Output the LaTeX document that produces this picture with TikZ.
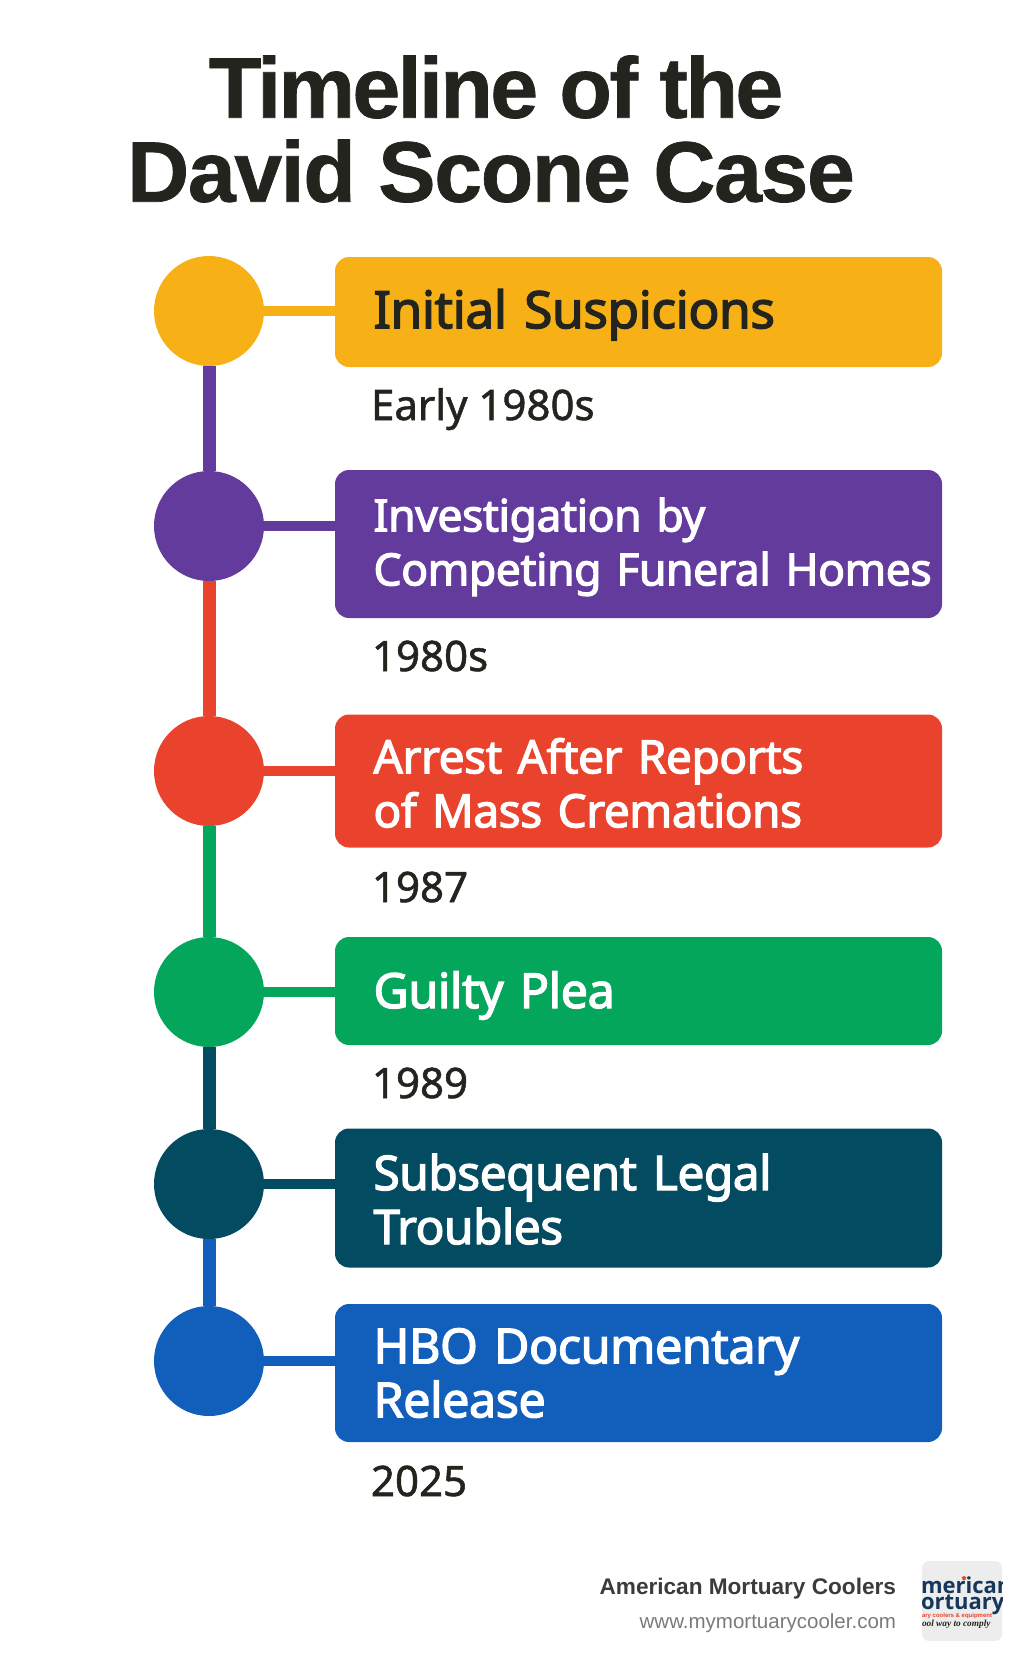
\documentclass[tikz,border=0pt]{standalone}
\usepackage{fontspec}
\usetikzlibrary{positioning, shapes.geometric}
\setmainfont{Liberation Sans}
\newfontfamily\titlefont[LetterSpace=-3,BoldFeatures={FakeBold=0.8}]{Liberation Sans}
\newfontfamily\labelfont[LetterSpace=-1,FakeBold=2.6]{Noto Sans}
\newfontfamily\datefont[FakeBold=1.3]{Noto Sans}
\newfontfamily\logosans{Open Sans}
\newfontfamily\logoscript{Liberation Serif}
\definecolor{amber}{HTML}{F7B015}
\definecolor{grape}{HTML}{633B9C}
\definecolor{tomato}{HTML}{E9432E}
\definecolor{jade}{HTML}{04A65B}
\definecolor{petrol}{HTML}{024B60}
\definecolor{cobalt}{HTML}{125EBB}
\definecolor{ink}{HTML}{24241F}
\definecolor{navy}{HTML}{15375C}
\tikzset{
  timeline/.style={
	node distance=215pt, % vertical default, corrected per node with yshift
	every node/.style={inner sep=0pt, outer sep=0pt},
  },
  dot/.style={circle, fill=#1, minimum size=110pt},
  stage/.style 2 args={rectangle, rounded corners=14pt, fill=#1, text width=607pt, align=left, text=white, execute at begin node={\leftskip=38.5pt\relax\rule{0pt}{#2}}}, % the rule pushes the text down
  datelabel/.style={anchor=base west, text=ink, font=\datefont\fontsize{42}{50}\selectfont},
  spine/.style={draw=#1, line width=13pt},
  stub/.style={draw=#1, line width=10pt},
}

\begin{document}
\begin{tikzpicture}[timeline]
\useasboundingbox (0pt,0pt) rectangle (1024pt,-1666pt);

\node[align=center, text=ink, font=\titlefont\bfseries\fontsize{86}{84}\selectfont] (title) at (491pt,-129pt) {\hspace*{10pt}Timeline of the\\\addfontfeature{LetterSpace=-1.6}David Scone Case};

% circles down the left
\node[dot=amber] (c1) at (209pt,-311pt) {};
\node[dot=grape, below of=c1] (c2) {};
\node[dot=tomato, below of=c2, yshift=-30pt] (c3) {};
\node[dot=jade, below of=c3, yshift=-6pt] (c4) {};
\node[dot=petrol, below of=c4, yshift=23pt] (c5) {};
\node[dot=cobalt, below of=c5, yshift=38pt] (c6) {};

% boxes
\node[stage={amber}{44.7pt}, right of=c1, node distance=429.5pt, yshift=-1pt, minimum height=110pt, text=ink, font=\labelfont\fontsize{51.5}{54}\selectfont] (b1) {Initial Suspicions};
\node[stage={grape}{39.5pt}, right of=c2, node distance=429.5pt, yshift=-18pt, minimum height=148pt, font=\labelfont\fontsize{44.5}{54}\selectfont] (b2) {Investigation by\\Competing Funeral Homes};
\node[stage={tomato}{39pt}, right of=c3, node distance=429.5pt, yshift=-10pt, minimum height=133pt, font=\labelfont\fontsize{46}{54}\selectfont] (b3) {Arrest After Reports\\of Mass Cremations};
\node[stage={jade}{45.7pt}, right of=c4, node distance=429.5pt, yshift=1pt, minimum height=108pt, font=\labelfont\fontsize{48.5}{54}\selectfont] (b4) {Guilty Plea};
\node[stage={petrol}{38.6pt}, right of=c5, node distance=429.5pt, yshift=-14pt, minimum height=139pt, font=\labelfont\fontsize{47.8}{54}\selectfont] (b5) {Subsequent Legal\\Troubles};
\node[stage={cobalt}{0pt}, right of=c6, node distance=429.5pt, yshift=-12pt, minimum height=138pt, font=\labelfont\fontsize{48.5}{54}\selectfont] (b6) {HBO Documentary\\Release};

% dates
\node[datelabel] (d1) at (371pt,-420pt) {Early 1980s};
\node[datelabel] (d2) at (372pt,-671pt) {1980s};
\node[datelabel] (d3) at (372pt,-902pt) {1987};
\node[datelabel] (d4) at (372pt,-1098pt) {1989};
\node[datelabel] (d6) at (371pt,-1496pt) {2025};

% connectors
\draw[spine=grape] (c1) -- (c2);
\draw[spine=tomato] (c2) -- (c3);
\draw[spine=jade] (c3) -- (c4);
\draw[spine=petrol] (c4) -- (c5);
\draw[spine=cobalt] (c5) -- (c6);
\draw[stub=amber] (c1.east) -- (c1.east -| b1.west);
\draw[stub=grape] (c2.east) -- (c2.east -| b2.west);
\draw[stub=tomato] (c3.east) -- (c3.east -| b3.west);
\draw[stub=jade] (c4.east) -- (c4.east -| b4.west);
\draw[stub=petrol] (c5.east) -- (c5.east -| b5.west);
\draw[stub=cobalt] (c6.east) -- (c6.east -| b6.west);

% footer
\node[anchor=base east, text=black!77, font=\bfseries\fontsize{22.6}{24}\selectfont] (brand) at (896pt,-1594pt) {American Mortuary Coolers};
\node[anchor=base east, text=black!52, font=\fontsize{20.5}{24}\selectfont] (site) at (896pt,-1628pt) {www.mymortuarycooler.com};

% logo, cropped by its tile
\fill[black!7, rounded corners=7pt] (922pt,-1561pt) rectangle (1002pt,-1641pt);
\begin{scope}
\clip[rounded corners=7pt] (922pt,-1561pt) rectangle (1002pt,-1641pt);
\node[anchor=base west, text=navy, font=\logosans\bfseries\fontsize{22}{22}\selectfont] (logoa) at (921pt,-1593pt) {merican};
\node[anchor=base west, text=navy, font=\logosans\bfseries\fontsize{22}{22}\selectfont] (logob) at (921pt,-1609pt) {ortuary};
\node[anchor=base west, text=tomato, font=\bfseries\fontsize{6}{8}\selectfont] (logoc) at (922pt,-1617pt) {ary coolers \& equipment};
\node[anchor=base west, text=ink, font=\logoscript\bfseries\itshape\fontsize{9.3}{9}\selectfont] (logod) at (922pt,-1626pt) {ool way to comply};
\node[star, fill=tomato, minimum size=5pt] (logostar) at (964pt,-1578pt) {};
\end{scope}
\end{tikzpicture}
\end{document}
